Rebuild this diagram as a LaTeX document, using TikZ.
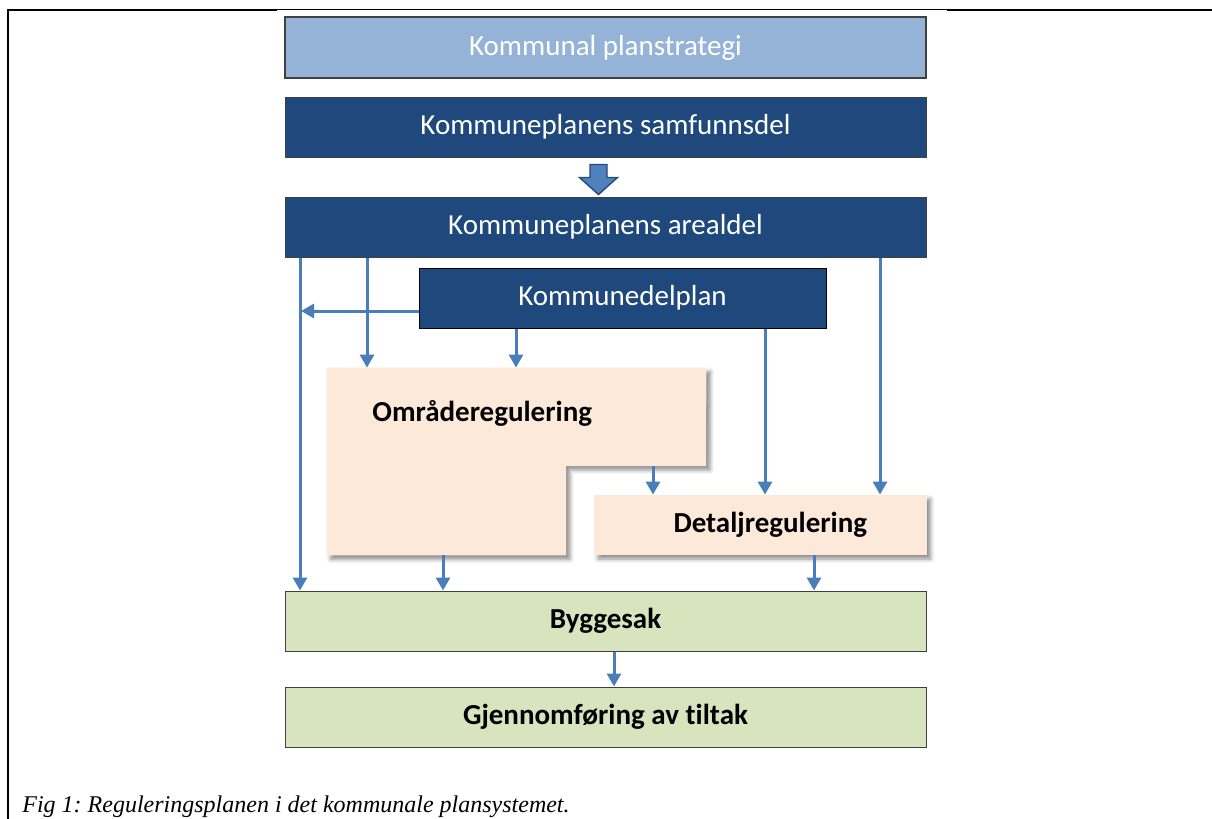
\documentclass[tikz,border=0pt]{standalone}
\usepackage{fontspec}
\setmainfont{Liberation Serif}
\newfontfamily\calfont[Ligatures=NoCommon]{Carlito}
\usetikzlibrary{arrows.meta,shadows.blur}
\definecolor{lightblue}{HTML}{95B3D7}
\definecolor{darkblue}{HTML}{1F497D}
\definecolor{peach}{HTML}{FDE9D9}
\definecolor{lgreen}{HTML}{D7E4BD}
\definecolor{arrowblue}{HTML}{4A7EBB}
\definecolor{blockfill}{HTML}{4F81BD}
\definecolor{blockline}{HTML}{254A78}
\definecolor{edge}{HTML}{404040}
\tikzset{
  wide/.style={minimum width=320.5pt, minimum height=30.5pt, inner sep=0pt},
  bluebox/.style={rectangle, fill=darkblue, draw=edge, line width=0.5pt, text=white, font=\calfont\fontsize{14.5pt}{16pt}\selectfont},
  lbluebox/.style={rectangle, fill=lightblue, draw=edge, line width=0.6pt, text=white, font=\calfont\fontsize{14.5pt}{16pt}\selectfont},
  greenbox/.style={rectangle, fill=lgreen, draw=edge, line width=0.5pt, text=black, font=\calfont\bfseries\fontsize{14.5pt}{16pt}\selectfont},
  peachshape/.style={fill=peach, draw=none, blur shadow={shadow xshift=2pt, shadow yshift=-2pt, shadow blur radius=2pt, shadow opacity=45}},
  boldlabel/.style={font=\calfont\bfseries\fontsize{14.5pt}{16pt}\selectfont, inner sep=0pt},
  arr/.style={draw=arrowblue, line width=1.5pt, -{Triangle[width=7pt,length=6.5pt]}},
}
\begin{document}
\begin{tikzpicture}[x=0.5pt,y=-0.5pt]
\useasboundingbox (0,0) rectangle (1212,819);
% frame
\draw[line width=1pt] (8,819) -- (8,10) -- (277,10);
\draw[line width=0.5pt] (277,9.5) -- (947,9.5);
\draw[line width=1pt] (947,10) -- (1212,10);

% boxes
\node[lbluebox, wide] (strat) at (605.5,47.5) {Kommunal planstrategi};
\node[bluebox, wide, minimum height=30pt] (samf) at (605.5,127) {Kommuneplanens samfunnsdel};
\node[bluebox, wide, minimum height=30pt] (areal) at (605.5,227) {Kommuneplanens arealdel};
\node[bluebox, draw=black, minimum width=203.5pt, minimum height=30.25pt, inner sep=0pt] (kdp) at (622.5,298.25) {Kommunedelplan};

% block arrow between samfunnsdel and arealdel
\coordinate (ba) at (598.5,0);
\draw[fill=blockfill, draw=blockline, line width=0.7pt, line join=miter]
  ([xshift=-4.25pt,yshift=-3.5pt]samf.south -| ba) -- ([xshift=4.25pt,yshift=-3.5pt]samf.south -| ba)
  -- ([xshift=4.25pt,yshift=-10pt]samf.south -| ba) -- ([xshift=9.5pt,yshift=-10pt]samf.south -| ba)
  -- ([yshift=1pt]areal.north -| ba) -- ([xshift=-9.5pt,yshift=-10pt]samf.south -| ba)
  -- ([xshift=-4.25pt,yshift=-10pt]samf.south -| ba) -- cycle;

% Omraderegulering L-shape
\node[minimum width=189.5pt, minimum height=93.5pt, inner sep=0pt] (omr) at (516.5,461.5) {};
\coordinate (omrstepR) at (706,466);
\coordinate (omrstepL) at (566,466);
\fill[peachshape] (omr.north west) -- (omr.north east) -- (omrstepR) -- (omrstepL) -- (omrstepL |- omr.south) -- (omr.south west) -- cycle;
\node[boldlabel, anchor=west] (omrtext) at (372,413) {Områderegulering};

% Detaljregulering
\node[peachshape, rectangle, minimum width=166.35pt, minimum height=30pt, inner sep=0pt, boldlabel] (det) at (760.35,525) {\hspace*{10pt}Detaljregulering};

% green boxes
\node[greenbox, wide, minimum height=30pt] (byg) at (605.5,621) {Byggesak};
\node[greenbox, wide, minimum height=30pt] (gjen) at (605.5,717) {Gjennomføring av tiltak};

% lanes
\coordinate (L1) at (300,0);
\coordinate (L2) at (367,0);
\coordinate (L3) at (516,0);
\coordinate (L4) at (765,0);
\coordinate (L5) at (880,0);
\coordinate (L6) at (653,0);
\coordinate (L7) at (443,0);
\coordinate (L8) at (814,0);
\coordinate (L9) at (614,0);
\coordinate (H1) at (0,311);

\draw[arr] (areal.south -| L1) -- (byg.north -| L1);
\draw[arr] (areal.south -| L2) -- (omr.north -| L2);
\draw[arr] (kdp.west |- H1) -- ([xshift=0.5pt]L1 |- H1);
\draw[arr] (kdp.south -| L3) -- (omr.north -| L3);
\draw[arr] (kdp.south -| L4) -- (det.north -| L4);
\draw[arr] (areal.south -| L5) -- (det.north -| L5);
\draw[arr] (omrstepR -| L6) -- (det.north -| L6);
\draw[arr] (omr.south -| L7) -- (byg.north -| L7);
\draw[arr] (det.south -| L8) -- (byg.north -| L8);
\draw[arr] (byg.south -| L9) -- (gjen.north -| L9);

% caption
\node[anchor=base west, inner sep=0pt, font=\frenchspacing\itshape\fontsize{12pt}{14pt}\selectfont] (cap) at (22,812) {Fig 1: Reguleringsplanen i det kommunale plansystemet.};
\end{tikzpicture}
\end{document}
